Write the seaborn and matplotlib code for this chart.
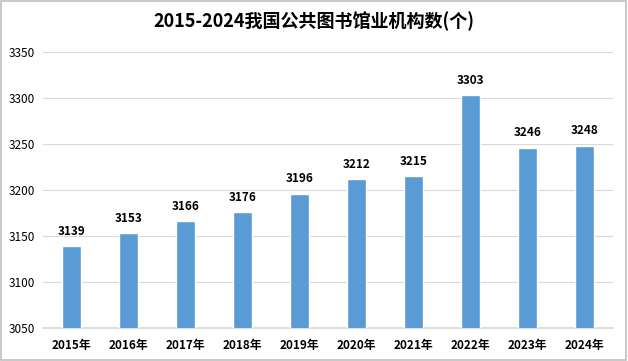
import matplotlib
matplotlib.use("Agg")
import matplotlib.pyplot as plt
import seaborn as sns
import pandas as pd

years = ["2015年", "2016年", "2017年", "2018年", "2019年", "2020年", "2021年", "2022年", "2023年", "2024年"]
counts = [3139, 3153, 3166, 3176, 3196, 3212, 3215, 3303, 3246, 3248]
title = "2015-2024我国公共图书馆业机构数(个)"
yticks = [3050, 3100, 3150, 3200, 3250, 3300, 3350]

sns.set_theme(style="white")
plt.rcParams['font.family'] = ['Noto Sans CJK SC', 'DejaVu Sans']
plt.rcParams['text.color'] = 'black'
plt.rcParams['xtick.color'] = 'black'
plt.rcParams['ytick.color'] = 'black'

df = pd.DataFrame({"year": years, "count": counts})

fig = plt.figure(figsize=(6.28, 3.61), dpi=100)
ax = fig.add_axes([0.0685, 0.0914, 0.9075, 0.7646])
sns.barplot(data=df, x="year", y="count", color="#5B9BD5", saturation=1, width=0.32, ax=ax, zorder=3)

ax.set_ylim(3050, 3350)
ax.set_yticks(yticks)
ax.set_yticklabels([str(t) for t in yticks], fontsize=8.5)
ax.yaxis.grid(True, color="#D9D9D9", linewidth=0.8, zorder=0)
ax.set_xlabel("")
ax.set_ylabel("")
for s in ["top", "right", "left"]:
    ax.spines[s].set_visible(False)
ax.spines["bottom"].set_color("#D9D9D9")
ax.tick_params(axis="y", length=0, pad=6)
ax.tick_params(axis="x", length=0, pad=8)
for lbl in ax.get_xticklabels():
    lbl.set_fontweight("bold")
    lbl.set_fontsize(8.5)

for i, v in enumerate(counts):
    ax.annotate(str(v), (i, v), xytext=(0, 6), textcoords="offset points",
                ha="center", va="bottom", fontsize=8.5, fontweight="bold", color="black")

fig.text(0.5, 0.94, title, ha="center", va="center", fontsize=13, fontweight="bold", color="black")

border = plt.Rectangle((0.002, 0.003), 0.995, 0.994, transform=fig.transFigure,
                       fill=False, edgecolor="#BFBFBF", linewidth=1.2)
fig.patches.append(border)

fig.savefig("out.png", dpi=100)
